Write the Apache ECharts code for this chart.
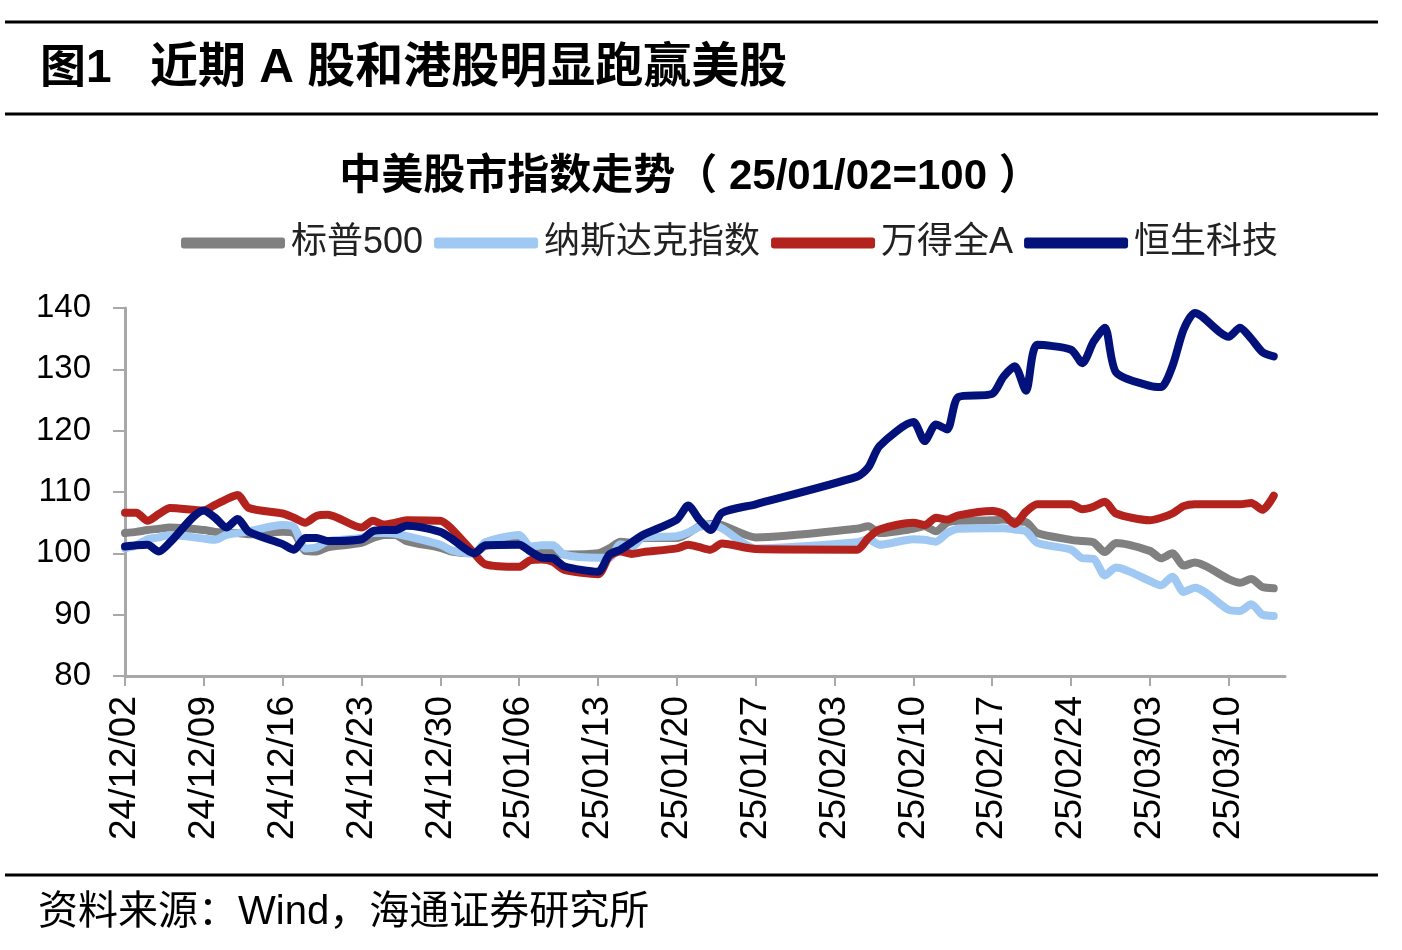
<!DOCTYPE html>
<html>
<head>
<meta charset="utf-8">
<script src="https://cdn.jsdelivr.net/npm/echarts@6/dist/echarts.min.js"></script>
<style>
html,body{margin:0;padding:0;background:#fff;}
#chart{width:1402px;height:950px;}
</style>
</head>
<body>
<div id="chart"></div>
<script>
// ---- data (trading days, A-share calendar) ----
const tradingDates = [
  '24/12/02','24/12/03','24/12/04','24/12/05','24/12/06',
  '24/12/09','24/12/10','24/12/11','24/12/12','24/12/13',
  '24/12/16','24/12/17','24/12/18','24/12/19','24/12/20',
  '24/12/23','24/12/24','24/12/25','24/12/26','24/12/27',
  '24/12/30','24/12/31','25/01/02','25/01/03',
  '25/01/06','25/01/07','25/01/08','25/01/09','25/01/10',
  '25/01/13','25/01/14','25/01/15','25/01/16','25/01/17',
  '25/01/20','25/01/21','25/01/22','25/01/23','25/01/24',
  '25/01/27',
  '25/02/05','25/02/06','25/02/07',
  '25/02/10','25/02/11','25/02/12','25/02/13','25/02/14',
  '25/02/17','25/02/18','25/02/19','25/02/20','25/02/21',
  '25/02/24','25/02/25','25/02/26','25/02/27','25/02/28',
  '25/03/03','25/03/04','25/03/05','25/03/06','25/03/07',
  '25/03/10','25/03/11','25/03/12','25/03/13','25/03/14'
];
const axisEndDate = '25/03/15';

const sp500 = [
  103.3,103.5,103.8,104.0,104.2,
  103.8,103.5,103.4,103.3,103.1,
  103.5,103.3,100.4,100.3,101.0,
  101.7,102.5,103.0,103.0,102.0,
  100.9,100.3,100.0,101.2,
  101.8,100.6,100.3,100.3,99.8,
  100.0,100.8,101.9,101.7,102.5,
  102.5,103.3,104.4,104.8,104.6,
  102.6,
  104.0,104.4,103.3,
  104.0,104.4,103.6,105.0,105.3,
  105.4,105.5,105.2,105.1,103.3,
  102.2,102.0,101.8,100.2,101.7,
  100.4,99.2,100.0,98.0,98.5,
  95.8,95.2,95.8,94.5,94.3
];
const nasdaq = [
  100.8,101.3,102.3,102.6,103.0,
  102.4,102.2,103.0,103.3,103.6,
  104.6,104.3,100.8,101.0,102.0,
  102.5,103.3,103.3,103.2,102.8,
  101.4,100.5,100.0,101.8,
  103.0,101.1,101.3,101.3,99.8,
  99.3,99.3,101.5,101.0,102.6,
  102.8,103.4,104.3,104.6,104.1,
  100.8,
  101.8,102.3,101.4,
  102.3,102.2,101.9,103.3,104.0,
  104.1,104.1,103.9,103.6,101.7,
  100.6,99.2,99.1,96.4,97.7,
  95.5,94.8,96.2,93.7,94.4,
  90.8,90.6,91.7,90.0,89.8
];
const windA = [
  106.6,106.6,105.3,106.4,107.4,
  107.0,107.9,108.8,109.5,107.4,
  106.5,105.8,105.0,106.1,106.3,
  104.2,105.3,104.7,105.0,105.4,
  105.3,104.0,100.0,98.2,
  97.8,98.9,99.0,98.6,97.3,
  96.6,99.5,100.3,99.9,100.2,
  100.8,101.4,101.0,100.6,101.6,
  100.7,
  100.6,102.5,103.9,
  105.0,104.6,105.8,105.5,106.2,
  106.9,106.4,104.8,106.8,108.0,
  108.0,107.2,107.6,108.4,106.5,
  105.4,105.8,106.5,107.7,108.0,
  108.0,108.0,108.2,107.1,109.4
];
const hstech = [
  101.1,101.3,101.4,100.3,101.8,
  107.0,105.8,104.2,105.6,103.5,
  101.5,100.6,102.5,102.5,102.0,
  102.3,103.6,103.8,103.8,104.5,
  103.5,102.4,100.0,101.3,
  101.4,100.3,99.3,99.2,97.9,
  97.0,99.8,100.6,101.8,103.0,
  105.5,107.8,105.5,103.8,106.6,
  108.0,
  112.5,114.0,117.5,
  121.4,118.3,121.0,120.2,125.5,
  126.0,128.8,130.5,126.5,134.0,
  133.2,131.0,134.5,136.8,129.5,
  127.3,127.1,130.5,136.5,139.2,
  135.3,136.8,135.0,132.8,132.1
];
const seriesNames = ['标普500','纳斯达克指数','万得全A','恒生科技'];
const seriesColors = ['#808080','#9fc8f3','#b3221c','#03127a'];
const seriesValues = [sp500, nasdaq, windA, hstech];
const yMin = 80, yMax = 140, yStep = 10;
const labelEvery = 7;

// ---- build calendar-day category axis ----
function parseD(s){const p=s.split('/').map(Number);return Date.UTC(2000+p[0],p[1]-1,p[2]);}
function fmtD(t){const d=new Date(t);const z=n=>String(n).padStart(2,'0');return z(d.getUTCFullYear()%100)+'/'+z(d.getUTCMonth()+1)+'/'+z(d.getUTCDate());}
const calendar=[];
for(let t=parseD(tradingDates[0]);t<=parseD(axisEndDate);t+=86400000){calendar.push(fmtD(t));}
function toCalendar(vals){
  const m={};tradingDates.forEach((d,i)=>{m[d]=vals[i];});
  return calendar.map(d=>(d in m)?m[d]:null);
}

const latin='"Liberation Sans", Arial, "Noto Sans CJK SC", sans-serif';
const chart=echarts.init(document.getElementById('chart'),null,{renderer:'canvas'});
const showIdx=(i)=>i%labelEvery===0;

chart.setOption({
  animation:false,
  backgroundColor:'#fff',
  graphic:[
    {type:'line',shape:{x1:5,y1:22,x2:1378,y2:22},style:{stroke:'#000',lineWidth:3}},
    {type:'line',shape:{x1:5,y1:114,x2:1378,y2:114},style:{stroke:'#000',lineWidth:3}},
    {type:'line',shape:{x1:5,y1:875,x2:1378,y2:875},style:{stroke:'#000',lineWidth:3}},
    {type:'text',x:40,y:69,style:{text:'图1',font:'bold 46px "Liberation Sans", "Noto Sans CJK SC", sans-serif',fill:'#000',textVerticalAlign:'middle',textAlign:'left'}},
    {type:'text',x:150,y:69,style:{text:'近期 A 股和港股明显跑赢美股',font:'bold 48px "Liberation Sans", "Noto Sans CJK SC", sans-serif',fill:'#000',textVerticalAlign:'middle',textAlign:'left'}},
    {type:'text',x:690,y:177,style:{text:'中美股市指数走势（ 25/01/02=100 ）',font:'bold 42px "Liberation Sans", "Noto Sans CJK SC", sans-serif',fill:'#000',textVerticalAlign:'middle',textAlign:'center'}},
    {type:'text',x:38,y:913,style:{text:'资料来源：Wind，海通证券研究所',font:'40px "Liberation Sans", "Noto Sans CJK SC", sans-serif',fill:'#000',textVerticalAlign:'middle',textAlign:'left'}}
  ],
  legend:{
    data:seriesNames,
    left:176, top:220,
    icon:'roundRect',
    itemWidth:104, itemHeight:11, itemGap:11,
    textStyle:{fontSize:36,color:'#222',fontFamily:latin,padding:[0,0,0,1]}
  },
  grid:{left:125,right:117,top:308,bottom:274,containLabel:false},
  xAxis:{
    type:'category',
    data:calendar,
    boundaryGap:false,
    axisLine:{show:true,lineStyle:{color:'#a8a8a8',width:3}},
    axisTick:{show:true,interval:(i)=>showIdx(i),length:10,lineStyle:{color:'#a8a8a8',width:2}},
    axisLabel:{interval:(i)=>showIdx(i),rotate:90,fontSize:37,color:'#000',fontFamily:latin,margin:20},
    splitLine:{show:false}
  },
  yAxis:{
    type:'value',
    min:yMin,max:yMax,interval:yStep,
    axisLine:{show:true,lineStyle:{color:'#a8a8a8',width:3}},
    axisTick:{show:true,length:12,lineStyle:{color:'#a8a8a8',width:2}},
    axisLabel:{fontSize:33,color:'#000',fontFamily:latin,margin:34},
    splitLine:{show:false}
  },
  series:seriesNames.map((n,k)=>({
    name:n,type:'line',
    data:toCalendar(seriesValues[k]),
    connectNulls:true,
    smooth:0.25,
    showSymbol:false,symbol:'none',
    color:seriesColors[k],
    lineStyle:{width:8,color:seriesColors[k],cap:'round',join:'round'},
    emphasis:{disabled:true},
    silent:true,
    z:2+k
  }))
});
</script>
</body>
</html>
